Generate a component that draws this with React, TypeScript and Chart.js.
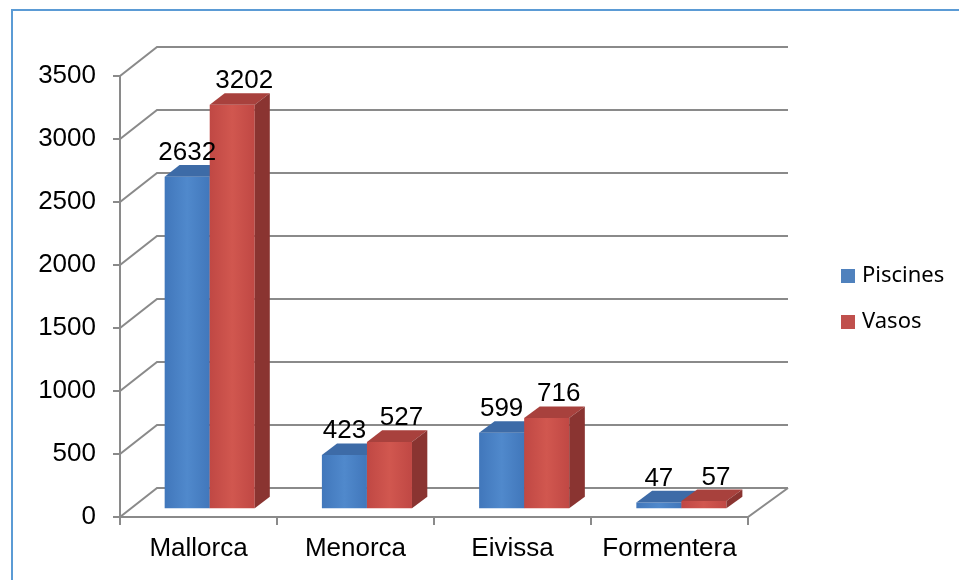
import React, { useEffect, useRef } from "react";
import { Chart, registerables } from "chart.js";

Chart.register(...registerables);

const categories = ["Mallorca", "Menorca", "Eivissa", "Formentera"];
const piscines = [2632, 423, 599, 47];
const vasos = [3202, 527, 716, 57];
const seriesNames = ["Piscines", "Vasos"];
const yTicks = [0, 500, 1000, 1500, 2000, 2500, 3000, 3500];

const FONT = "'Liberation Sans', Arial, sans-serif";
const LEGEND_FONT = "'Noto Sans', sans-serif";
const DEPTH_L = 37;
const DEPTH_R = 40;
const DEPTH_Y = 29;
const BAR_T0 = 0.3;
const BAR_T1 = 0.7;

const palette = [
  { front: ["#4177bb", "#5089cc", "#4177bb"], top: "#3d6ba7", side: "#34598c" },
  { front: ["#c04844", "#d1574f", "#c04844"], top: "#a8413d", side: "#8a3431" },
];
const legendColors = ["#4f81bd", "#c0504d"];

const threeD = {
  id: "threeD",
  beforeDraw(chart: any) {
    const ctx = chart.ctx;
    ctx.save();
    ctx.fillStyle = "#ffffff";
    ctx.fillRect(0, 0, chart.width, chart.height);
    ctx.strokeStyle = "#5b9bd5";
    ctx.lineWidth = 2;
    ctx.strokeRect(12, 10, chart.width + 50, chart.height + 50);
    ctx.restore();
  },
  beforeDatasetsDraw(chart: any) {
    const { ctx, chartArea: a, scales } = chart;
    const xs = scales.x;
    const ys = scales.y;
    const backX = (px: number, t: number) =>
      px + t * (DEPTH_L + ((px - a.left) / (a.right - a.left)) * (DEPTH_R - DEPTH_L));
    const P = (px: number, py: number, t: number) => [backX(px, t), py - DEPTH_Y * t];

    ctx.save();
    ctx.strokeStyle = "#8a8a8a";
    ctx.lineWidth = 2;
    for (const v of yTicks) {
      const py = ys.getPixelForValue(v);
      ctx.beginPath();
      ctx.moveTo(a.left - 7, py);
      ctx.lineTo(a.left, py);
      ctx.lineTo(backX(a.left, 1), py - DEPTH_Y);
      ctx.lineTo(backX(a.right, 1), py - DEPTH_Y);
      ctx.stroke();
    }
    const topPx = ys.getPixelForValue(yTicks[yTicks.length - 1]);
    ctx.beginPath();
    ctx.moveTo(a.left, topPx);
    ctx.lineTo(a.left, a.bottom);
    ctx.stroke();
    ctx.beginPath();
    ctx.moveTo(a.left, a.bottom);
    ctx.lineTo(a.right, a.bottom);
    ctx.lineTo(backX(a.right, 1), a.bottom - DEPTH_Y);
    ctx.stroke();
    const step = xs.getPixelForValue(1) - xs.getPixelForValue(0);
    for (let i = 0; i <= categories.length; i++) {
      const px = xs.getPixelForValue(0) - step / 2 + i * step;
      ctx.beginPath();
      ctx.moveTo(px, a.bottom);
      ctx.lineTo(px, a.bottom + 8);
      ctx.stroke();
    }
    ctx.restore();

    const metas = chart.getSortedVisibleDatasetMetas();
    const poly = (pts: number[][], fill: any) => {
      ctx.beginPath();
      ctx.moveTo(pts[0][0], pts[0][1]);
      for (let k = 1; k < pts.length; k++) ctx.lineTo(pts[k][0], pts[k][1]);
      ctx.closePath();
      ctx.fillStyle = fill;
      ctx.fill();
    };
    const labels: any[] = [];
    ctx.save();
    for (let i = 0; i < categories.length; i++) {
      metas.forEach((meta: any, di: number) => {
        const el = meta.data[i];
        const { x: cx, y: top, base, width } = el.getProps(["x", "y", "base", "width"], true);
        const x0 = cx - width / 2;
        const x1 = cx + width / 2;
        const c = palette[di];
        const f0 = P(x0, top, BAR_T0);
        const f1 = P(x1, top, BAR_T0);
        const f2 = P(x1, base, BAR_T0);
        const f3 = P(x0, base, BAR_T0);
        const g = ctx.createLinearGradient(f0[0], 0, f1[0], 0);
        g.addColorStop(0, c.front[0]);
        g.addColorStop(0.5, c.front[1]);
        g.addColorStop(1, c.front[2]);
        poly([f0, f1, f2, f3], g);
        poly([f0, f1, P(x1, top, BAR_T1), P(x0, top, BAR_T1)], c.top);
        poly([f1, P(x1, top, BAR_T1), P(x1, base, BAR_T1), f2], c.side);
        const value = chart.data.datasets[di].data[i];
        const lx = (f0[0] + f1[0]) / 2 + (di === 1 ? 12 : 0);
        const ly = P(x0, top, BAR_T1)[1] - 5;
        labels.push({ text: String(value), x: lx, y: ly });
      });
    }
    ctx.fillStyle = "#000000";
    ctx.font = `26px ${FONT}`;
    ctx.textAlign = "center";
    ctx.textBaseline = "alphabetic";
    for (const l of labels) ctx.fillText(l.text, l.x, l.y);
    ctx.restore();
    return false;
  },
  afterDraw(chart: any) {
    const ctx = chart.ctx;
    ctx.save();
    ctx.font = `22px ${LEGEND_FONT}`;
    ctx.textAlign = "left";
    ctx.textBaseline = "middle";
    seriesNames.forEach((name, i) => {
      const cy = 276 + i * 46;
      ctx.fillStyle = legendColors[i];
      ctx.fillRect(841, cy - 7, 14, 14);
      ctx.fillStyle = "#000000";
      ctx.fillText(name, 862, cy);
    });
    ctx.restore();
  },
};

export default function App() {
  const ref = useRef<HTMLCanvasElement | null>(null);
  useEffect(() => {
    if (!ref.current) return;
    const chart = new Chart(ref.current, {
      type: "bar",
      data: {
        labels: categories,
        datasets: [
          { label: seriesNames[0], data: piscines, backgroundColor: legendColors[0] },
          { label: seriesNames[1], data: vasos, backgroundColor: legendColors[1] },
        ],
      },
      options: {
        animation: false,
        responsive: false,
        devicePixelRatio: 1,
        categoryPercentage: 0.573,
        barPercentage: 1,
        layout: { padding: { left: 0, top: 76, right: 211, bottom: 13 } },
        plugins: { legend: { display: false }, tooltip: { enabled: false } },
        scales: {
          x: {
            grid: { display: false, drawTicks: false },
            border: { display: false },
            ticks: { font: { family: FONT, size: 26 }, color: "#000", padding: 16, maxRotation: 0, autoSkip: false },
            afterFit: (s: any) => { s.height = 50; },
          },
          y: {
            min: 0,
            max: 3500,
            grid: { display: false, drawTicks: false },
            border: { display: false },
            ticks: {
              stepSize: 500,
              font: { family: FONT, size: 26 },
              color: "#000",
              padding: 24,
              callback: (v: any) => String(v),
            },
            afterFit: (s: any) => { s.width = 120; },
          },
        },
      } as any,
      plugins: [threeD],
    });
    return () => chart.destroy();
  }, []);
  return (
    <div style={{ position: "fixed", left: 0, top: 0, width: 959, height: 580, overflow: "hidden", background: "#fff" }}>
      <canvas ref={ref} width={959} height={580} style={{ width: 959, height: 580, display: "block" }} />
    </div>
  );
}
